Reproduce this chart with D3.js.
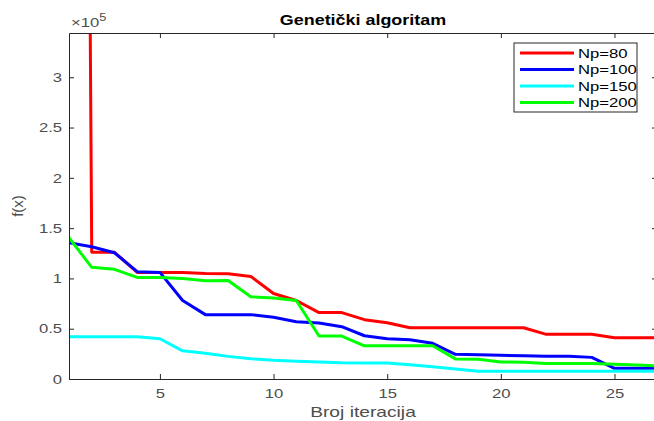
<!DOCTYPE html>
<html>
<head>
<meta charset="utf-8">
<script src="https://cdn.jsdelivr.net/npm/d3@7/dist/d3.min.js"></script>
<style>
  html, body { margin: 0; padding: 0; background: #fff; overflow: hidden; }
  svg { display: block; font-family: "Liberation Sans", Arial, sans-serif; }
</style>
</head>
<body>
<svg id="chart" width="654" height="421"></svg>
<script>
// Iterations 1..27
const iterations = d3.range(1, 28);

// Best objective value per iteration for each population size
const np80 = [3.5e6, 1.26e5, 1.26e5, 1.06e5, 1.06e5, 1.06e5, 1.05e5, 1.047e5, 1.02e5, 0.85e5,
              0.78e5, 0.66e5, 0.66e5, 0.59e5, 0.56e5, 0.51e5, 0.51e5, 0.51e5, 0.51e5, 0.51e5,
              0.51e5, 0.444e5, 0.444e5, 0.444e5, 0.41e5, 0.41e5, 0.41e5];
const np100 = [1.355e5, 1.315e5, 1.255e5, 1.067e5, 1.06e5, 0.78e5, 0.64e5, 0.64e5, 0.64e5, 0.613e5,
               0.57e5, 0.557e5, 0.52e5, 0.43e5, 0.40e5, 0.39e5, 0.355e5, 0.245e5, 0.24e5, 0.235e5,
               0.23e5, 0.225e5, 0.225e5, 0.215e5, 0.106e5, 0.106e5, 0.106e5];
const np150 = [0.42e5, 0.42e5, 0.42e5, 0.42e5, 0.40e5, 0.28e5, 0.255e5, 0.225e5, 0.202e5, 0.186e5,
               0.176e5, 0.17e5, 0.162e5, 0.16e5, 0.16e5, 0.142e5, 0.122e5, 0.10e5, 0.076e5, 0.076e5,
               0.076e5, 0.076e5, 0.076e5, 0.076e5, 0.076e5, 0.076e5, 0.076e5];
const np200 = [1.405e5, 1.11e5, 1.09e5, 1.01e5, 1.01e5, 1.0e5, 0.977e5, 0.98e5, 0.818e5, 0.805e5,
               0.78e5, 0.427e5, 0.427e5, 0.33e5, 0.33e5, 0.33e5, 0.33e5, 0.20e5, 0.197e5, 0.17e5,
               0.167e5, 0.155e5, 0.155e5, 0.155e5, 0.146e5, 0.14e5, 0.13e5];

const seriesNames = ["Np=80", "Np=100", "Np=150", "Np=200"];
const seriesColors = ["#ff0000", "#0000ff", "#00ffff", "#00ff00"];
const seriesValues = [np80, np100, np150, np200];

const xTicks = [5, 10, 15, 20, 25];
const yTicks = [0, 0.5e5, 1e5, 1.5e5, 2e5, 2.5e5, 3e5];

const titleText = "Genetički algoritam";
const xLabel = "Broj iteracija";
const yLabel = "f(x)";

// Plot box
const plotLeft = 69, plotRight = 657, plotTop = 33, plotBottom = 379;
const svg = d3.select("#chart");

const x = d3.scaleLinear().domain([1, 26.87]).range([plotLeft, plotRight]);
const y = d3.scaleLinear().domain([0, 3.44e5]).range([plotBottom, plotTop]);

const axisColor = "#262626";
const labelColor = "#4d4d4d";
const tickLen = 5;
const widen = 1.28; // horizontal text widening

// Widen horizontal text runs by a fixed factor
function stretch(sel) {
  sel.each(function () {
    const len = this.getComputedTextLength();
    if (len > 0) {
      d3.select(this).attr("textLength", len * widen).attr("lengthAdjust", "spacingAndGlyphs");
    }
  });
}

svg.append("defs").append("clipPath").attr("id", "plotclip")
  .append("rect").attr("x", plotLeft).attr("y", plotTop)
  .attr("width", plotRight - plotLeft).attr("height", plotBottom - plotTop);

// Series lines
const line = d3.line().x((d, i) => x(iterations[i])).y(d => y(d));
const plot = svg.append("g").attr("clip-path", "url(#plotclip)");
seriesValues.forEach((vals, k) => {
  plot.append("path")
    .datum(vals)
    .attr("d", line)
    .attr("fill", "none")
    .attr("stroke", seriesColors[k])
    .attr("stroke-width", 3)
    .attr("stroke-linejoin", "round");
});

// Axes: inward ticks, mirrored on top and right
const fmtY = v => d3.format("~g")(v / 1e5);
const xAxisB = d3.axisBottom(x).tickValues(xTicks).tickSizeInner(-tickLen).tickSizeOuter(0).tickPadding(10);
const xAxisT = d3.axisTop(x).tickValues(xTicks).tickSizeInner(-tickLen).tickSizeOuter(0).tickFormat("");
const yAxisL = d3.axisLeft(y).tickValues(yTicks).tickFormat(fmtY).tickSizeInner(-tickLen).tickSizeOuter(0).tickPadding(7);
const yAxisR = d3.axisRight(y).tickValues(yTicks).tickSizeInner(-tickLen).tickSizeOuter(0).tickFormat("");

function styleAxis(g) {
  g.select(".domain").attr("stroke", axisColor).attr("stroke-width", 1);
  g.selectAll(".tick line").attr("stroke", axisColor);
  g.selectAll(".tick text").attr("fill", labelColor).style("font-size", "13px")
    .style("font-family", "'Liberation Sans', Arial, sans-serif")
    .call(stretch);
}

svg.append("g").attr("transform", `translate(0,${plotBottom})`).call(xAxisB).call(styleAxis);
svg.append("g").attr("transform", `translate(0,${plotTop})`).call(xAxisT).call(styleAxis);
svg.append("g").attr("transform", `translate(${plotLeft},0)`).call(yAxisL).call(styleAxis);
svg.append("g").attr("transform", `translate(${plotRight},0)`).call(yAxisR).call(styleAxis);

// Exponent marker above the y axis
const expo = svg.append("g").attr("transform", `translate(${plotLeft + 2},27) scale(${widen},1)`);
const expoText = expo.append("text").attr("x", 0).attr("y", 0)
  .attr("fill", labelColor).style("font-size", "13px");
expoText.append("tspan").text("×10");
expoText.append("tspan").attr("dy", -6).style("font-size", "10px").text("5");

// Title and axis labels
svg.append("text").attr("x", (plotLeft + plotRight) / 2).attr("y", 25)
  .attr("text-anchor", "middle").attr("fill", "#000")
  .style("font-size", "14px").style("font-weight", "bold").text(titleText)
  .call(stretch);

svg.append("text").attr("x", (plotLeft + plotRight) / 2).attr("y", 417)
  .attr("text-anchor", "middle").attr("fill", labelColor)
  .style("font-size", "15px").text(xLabel)
  .call(stretch);

svg.append("text").attr("transform", `translate(23,${(plotTop + plotBottom) / 2}) rotate(-90)`)
  .attr("text-anchor", "middle").attr("fill", labelColor)
  .style("font-size", "15px").text(yLabel);

// Legend
const lg = svg.append("g").attr("transform", "translate(514,43)");
lg.append("rect").attr("width", 123).attr("height", 69)
  .attr("fill", "#fff").attr("stroke", axisColor).attr("stroke-width", 1);
seriesNames.forEach((name, k) => {
  const yy = 10 + k * 16.5;
  lg.append("line").attr("x1", 6).attr("x2", 60).attr("y1", yy).attr("y2", yy)
    .attr("stroke", seriesColors[k]).attr("stroke-width", 3);
  lg.append("text").attr("x", 64).attr("y", yy + 4.5)
    .attr("fill", "#000").style("font-size", "13px").text(name)
    .call(stretch);
});
</script>
</body>
</html>
